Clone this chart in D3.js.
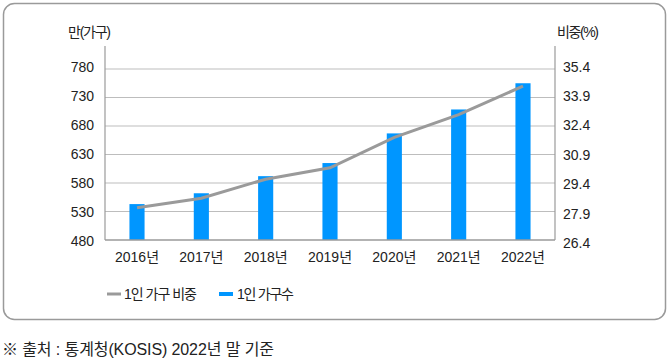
<!DOCTYPE html>
<html>
<head>
<meta charset="utf-8">
<script src="https://cdn.jsdelivr.net/npm/d3@7"></script>
<style>
  body { margin: 0; background: #fff; }
  text { font-family: "Liberation Sans Narrow", "Liberation Sans", "Noto Sans CJK KR", sans-serif; fill: #222; }
</style>
</head>
<body>
<div id="chart"></div>
<script>
var years = ["2016년", "2017년", "2018년", "2019년", "2020년", "2021년", "2022년"];
var households = [543, 562, 592, 615, 667, 709, 755];
var ratio = [28.1, 28.6, 29.6, 30.2, 31.8, 33.0, 34.5];
var leftTicks = [480, 530, 580, 630, 680, 730, 780];
var rightTicks = [26.4, 27.9, 29.4, 30.9, 32.4, 33.9, 35.4];

var w = 670;
var h = 364;
// plot edges (top was clashing with window.top)
var plotLeft = 105, plotRight = 555, plotTop = 69, plotBottom = 240;

var svg = d3.select("#chart")
            .append("svg")
            .attr("width", w)
            .attr("height", h);

// frame
svg.append("rect")
   .attr("x", 3.5).attr("y", 3.5)
   .attr("width", 662).attr("height", 316)
   .attr("rx", 11)
   .attr("fill", "none")
   .attr("stroke", "#9a9a9a")
   .attr("stroke-width", 1.5);

var xScale = d3.scaleBand()
               .domain(years)
               .range([plotLeft, plotRight])
               .paddingInner(0.765)
               .paddingOuter(0.38);

var yLeft = d3.scaleLinear().domain([480, 780]).range([plotBottom, plotTop]);
var yRight = d3.scaleLinear().domain([26.4, 35.4]).range([plotBottom, plotTop]);
// labels in the original sit a little off the gridlines
var yLeftLabel = d3.scaleLinear().domain([480, 780]).range([240.5, 67]);
var yRightLabel = d3.scaleLinear().domain([26.4, 35.4]).range([243, 66.5]);

// gridlines
svg.selectAll("line.grid")
   .data(leftTicks.slice(1))
   .enter()
   .append("line")
   .attr("class", "grid")
   .attr("x1", plotLeft).attr("x2", plotRight)
   .attr("y1", function(d) { return yLeft(d); })
   .attr("y2", function(d) { return yLeft(d); })
   .attr("stroke", "#bdbdbd")
   .attr("stroke-width", 1.2);

// bars
svg.selectAll("rect.bar")
   .data(households)
   .enter()
   .append("rect")
   .attr("class", "bar")
   .attr("x", function(d, i) { return xScale(years[i]); })
   .attr("y", function(d) { return yLeft(d); })
   .attr("width", xScale.bandwidth())
   .attr("height", function(d) { return plotBottom - yLeft(d); })
   .attr("fill", "#0096ff");

// axes lines
svg.append("line")
   .attr("x1", plotLeft).attr("x2", plotLeft).attr("y1", 46).attr("y2", plotBottom)
   .attr("stroke", "#9a9a9a").attr("stroke-width", 1.2);
svg.append("line")
   .attr("x1", plotRight).attr("x2", plotRight).attr("y1", 46).attr("y2", plotBottom)
   .attr("stroke", "#9a9a9a").attr("stroke-width", 1.2);
svg.append("line")
   .attr("x1", plotLeft).attr("x2", plotRight).attr("y1", plotBottom).attr("y2", plotBottom)
   .attr("stroke", "#9a9a9a").attr("stroke-width", 1.5);

// ratio line
var line = d3.line()
             .x(function(d, i) { return xScale(years[i]) + xScale.bandwidth() / 2; })
             .y(function(d) { return yRight(d); });

svg.append("path")
   .datum(ratio)
   .attr("d", line)
   .attr("fill", "none")
   .attr("stroke", "#9a9a9a")
   .attr("stroke-width", 3);

// tick labels
svg.selectAll("text.yl")
   .data(leftTicks)
   .enter()
   .append("text")
   .attr("class", "yl")
   .attr("x", 94)
   .attr("y", function(d) { return yLeftLabel(d); })
   .attr("dy", "0.36em")
   .attr("text-anchor", "end")
   .attr("font-size", 14)
   .text(function(d) { return d; });

svg.selectAll("text.yr")
   .data(rightTicks)
   .enter()
   .append("text")
   .attr("class", "yr")
   .attr("x", 563)
   .attr("y", function(d) { return yRightLabel(d); })
   .attr("dy", "0.36em")
   .attr("font-size", 14)
   .text(function(d) { return d.toFixed(1); });

svg.selectAll("text.xl")
   .data(years)
   .enter()
   .append("text")
   .attr("class", "xl")
   .attr("x", function(d) { return xScale(d) + xScale.bandwidth() / 2; })
   .attr("y", 257)
   .attr("dy", "0.36em")
   .attr("text-anchor", "middle")
   .attr("font-size", 14)
   .text(function(d) { return d; });

// unit labels
svg.append("text")
   .attr("x", 68).attr("y", 32).attr("dy", "0.36em")
   .attr("font-size", 14)
   .attr("textLength", 43)
   .text("만(가구)");
svg.append("text")
   .attr("x", 557).attr("y", 32).attr("dy", "0.36em")
   .attr("font-size", 14)
   .attr("textLength", 42)
   .text("비중(%)");

// legend
svg.append("line")
   .attr("x1", 107).attr("x2", 121).attr("y1", 294).attr("y2", 294)
   .attr("stroke", "#9a9a9a").attr("stroke-width", 3);
svg.append("text")
   .attr("x", 124).attr("y", 294).attr("dy", "0.36em")
   .attr("font-size", 14)
   .attr("textLength", 73)
   .text("1인 가구 비중");
svg.append("rect")
   .attr("x", 219).attr("y", 292).attr("width", 14).attr("height", 4)
   .attr("fill", "#0096ff");
svg.append("text")
   .attr("x", 237).attr("y", 294).attr("dy", "0.36em")
   .attr("font-size", 14)
   .attr("textLength", 57)
   .text("1인 가구수");

// source note
svg.append("text")
   .attr("x", 2).attr("y", 349).attr("dy", "0.36em")
   .attr("font-size", 16)
   .attr("textLength", 272)
   .text("※ 출처 : 통계청(KOSIS)  2022년  말  기준");
</script>
</body>
</html>
